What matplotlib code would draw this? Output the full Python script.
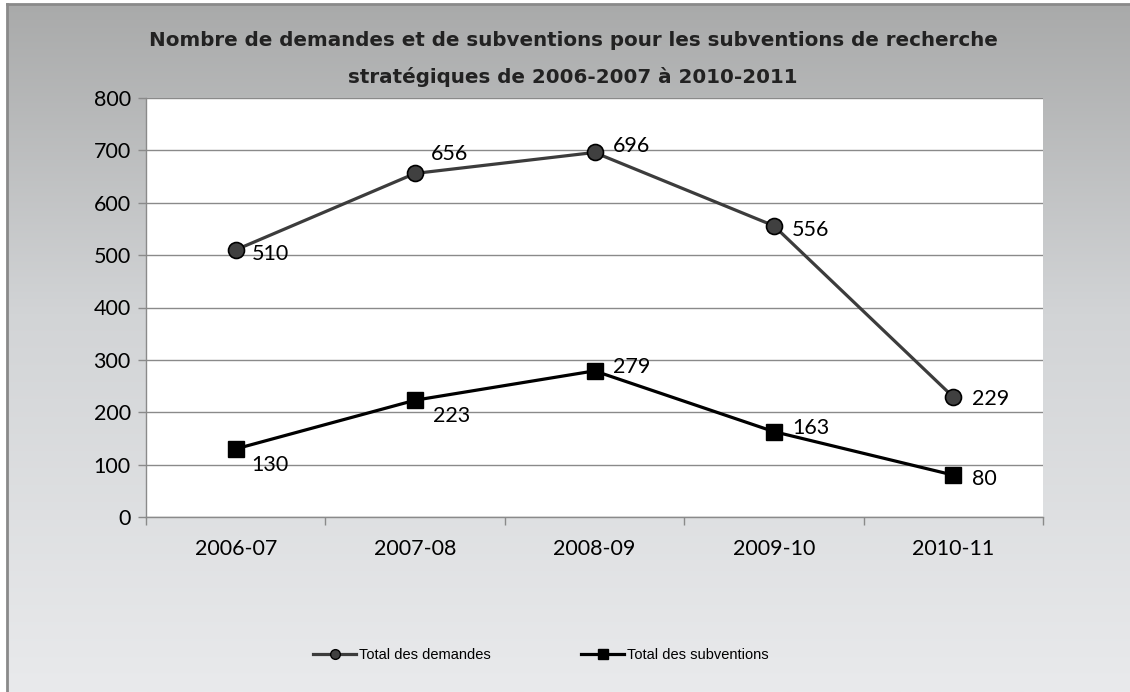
import matplotlib
matplotlib.use("Agg")
import matplotlib.pyplot as plt
import numpy as np
from matplotlib.lines import Line2D

# data
categories = ["2006-07", "2007-08", "2008-09", "2009-10", "2010-11"]
demandes = [510, 656, 696, 556, 229]
subventions = [130, 223, 279, 163, 80]
title_lines = ["Nombre de demandes et de subventions pour les subventions de recherche",
               "stratégiques de 2006-2007 à 2010-2011"]
series_names = ["Total des demandes", "Total des subventions"]
y_ticks = list(range(0, 801, 100))

# label offsets in pixels (dx, dy) relative to each point
dem_offsets = [(16, -4), (16, 19), (18, 6), (18, -4), (19, -2)]
sub_offsets = [(16, -16), (18, -16), (18, 4), (18, 4), (19, -4)]

W, H, DPI = 1130, 692, 100
fig = plt.figure(figsize=(W / DPI, H / DPI), dpi=DPI)
fig.patch.set_facecolor("white")

# gradient background of the chart area
bg = fig.add_axes([7 / W, 0, 1 - 7 / W, 1 - 4 / H])
grad = np.linspace(0, 1, 256).reshape(-1, 1)
top = np.array([169, 170, 170]) / 255
mid = np.array([210, 212, 214]) / 255
bot = np.array([233, 234, 236]) / 255
cols = np.where(grad[..., None] < 0.45,
                top + (mid - top) * (grad[..., None] / 0.45),
                mid + (bot - mid) * ((grad[..., None] - 0.45) / 0.55))
bg.imshow(cols, aspect="auto", extent=[0, 1, 0, 1], origin="upper")
bg.set_xlim(0, 1)
bg.set_ylim(0, 1)
bg.set_xticks([])
bg.set_yticks([])
for s in ["right", "bottom"]:
    bg.spines[s].set_visible(False)
for s in ["left", "top"]:
    bg.spines[s].set_color("#8a8a8a")
    bg.spines[s].set_linewidth(2)

ax = fig.add_axes([146 / W, 1 - 517 / H, (1043 - 146) / W, (517 - 98) / H])
ax.set_facecolor("white")
x = np.arange(len(categories))

ax.plot(x, demandes, color="#3c3c3c", lw=2.3, marker="o", ms=11.5,
        mfc="#404040", mec="black", mew=1.2, zorder=3)
ax.plot(x, subventions, color="black", lw=2.3, marker="s", ms=11.5,
        mfc="black", mec="black", zorder=3)

label_font = dict(family="Lato", size=15.5, color="black")
for xi, v, (dx, dy) in zip(x, demandes, dem_offsets):
    ax.annotate(str(v), (xi, v), xytext=(dx * 72 / DPI, dy * 72 / DPI),
                textcoords="offset points", ha="left", va="center", **label_font)
for xi, v, (dx, dy) in zip(x, subventions, sub_offsets):
    ax.annotate(str(v), (xi, v), xytext=(dx * 72 / DPI, dy * 72 / DPI),
                textcoords="offset points", ha="left", va="center", **label_font)

ax.set_xlim(-0.5, len(categories) - 0.5)
ax.set_ylim(0, 800)
ax.set_yticks(y_ticks)
ax.set_yticklabels([str(t) for t in y_ticks], fontfamily="Lato", fontsize=15.5)
ax.set_xticks(x)
ax.set_xticklabels(categories, fontfamily="Lato", fontsize=15.5)
ax.set_xticks(np.arange(-0.5, len(categories), 1), minor=True)
ax.tick_params(axis="x", which="major", length=0, pad=16)
ax.tick_params(axis="x", which="minor", length=6, color="#8a8a8a", width=1)
ax.tick_params(axis="y", length=6, color="#8a8a8a", width=1, pad=5)
ax.grid(axis="y", color="#8a8a8a", lw=1)
ax.set_axisbelow(True)
for s in ["top", "right"]:
    ax.spines[s].set_visible(False)
for s in ["left", "bottom"]:
    ax.spines[s].set_color("#8a8a8a")
    ax.spines[s].set_linewidth(1)

fig.text(573 / W, 1 - 40 / H, title_lines[0], ha="center", va="center",
         fontsize=14.3, fontweight="bold", family="DejaVu Sans", color="#222222")
fig.text(573 / W, 1 - 77 / H, title_lines[1], ha="center", va="center",
         fontsize=14.3, fontweight="bold", family="DejaVu Sans", color="#222222")

handles = [
    Line2D([], [], color="#3c3c3c", lw=2.3, marker="o", ms=7, mfc="#404040", mec="black"),
    Line2D([], [], color="black", lw=2.3, marker="s", ms=7, mfc="black", mec="black"),
]
fig.legend(handles, series_names, loc="center", bbox_to_anchor=(541 / W, 1 - 655 / H),
           ncol=2, frameon=False, handlelength=2.95, handletextpad=0.2,
           columnspacing=6.2, prop=dict(family="Liberation Sans", size=10.5))

fig.savefig("out.png", dpi=DPI)
